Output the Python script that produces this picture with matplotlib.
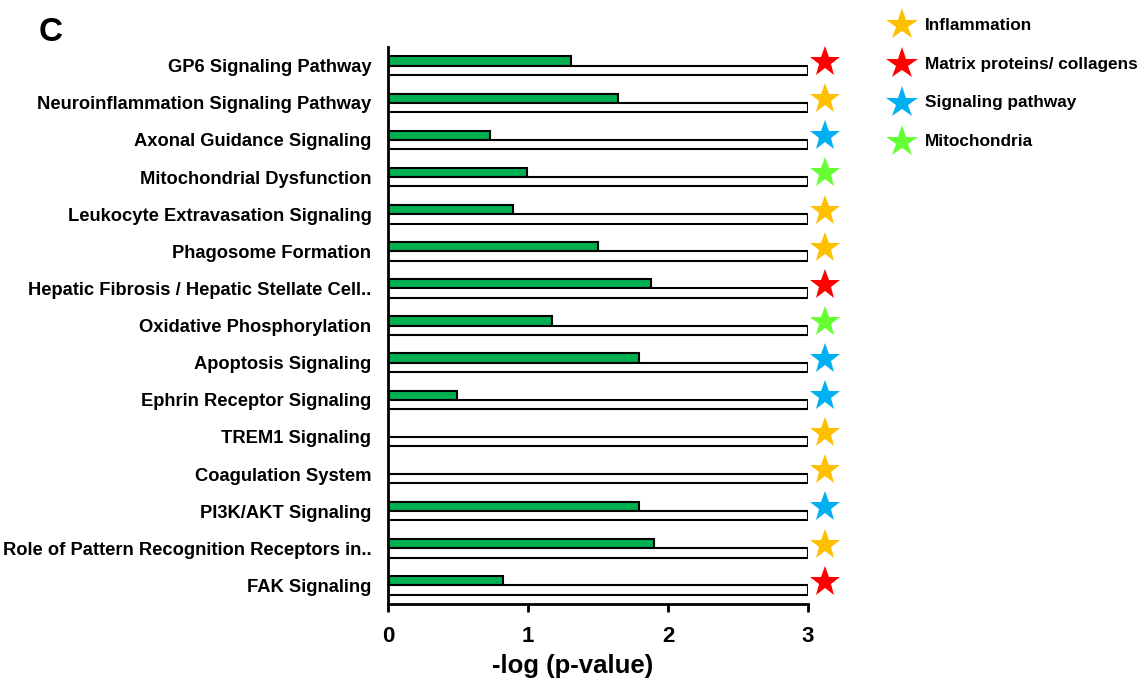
import numpy as np
import matplotlib.pyplot as plt

plt.rcParams['font.family'] = ['Liberation Sans', 'DejaVu Sans']
plt.rcParams['font.weight'] = 'bold'

# 通路名称 (从上到下)
PATHWAYS = ['GP6 Signaling Pathway', 'Neuroinflammation Signaling Pathway',
            'Axonal Guidance Signaling', 'Mitochondrial Dysfunction',
            'Leukocyte Extravasation Signaling', 'Phagosome Formation',
            'Hepatic Fibrosis / Hepatic Stellate Cell..', 'Oxidative Phosphorylation',
            'Apoptosis Signaling', 'Ephrin Receptor Signaling', 'TREM1 Signaling',
            'Coagulation System', 'PI3K/AKT Signaling',
            'Role of Pattern Recognition Receptors in..', 'FAK Signaling']
# -log(p-value)
NEG_LOG_P = [1.31, 1.64, 0.73, 0.99, 0.89, 1.50, 1.88, 1.17, 1.79, 0.49,
             0.0, 0.0, 1.79, 1.90, 0.82]
# 背景条 (阈值上限)
BACKGROUND = [3.0] * 15
# 类别
CATEGORY = ['Matrix', 'Inflammation', 'Signaling', 'Mitochondria', 'Inflammation',
            'Inflammation', 'Matrix', 'Mitochondria', 'Signaling', 'Signaling',
            'Inflammation', 'Inflammation', 'Signaling', 'Inflammation', 'Matrix']

LEGEND_KEYS = ['Inflammation', 'Matrix', 'Signaling', 'Mitochondria']
LEGEND_LABELS = ['Inflammation', 'Matrix proteins/ collagens',
                 'Signaling pathway', 'Mitochondria']
STAR_COLORS = {'Inflammation': '#FFC000', 'Matrix': '#FF0000',
               'Signaling': '#00B0F0', 'Mitochondria': '#66FF33'}

fig = plt.figure(figsize=(11.42, 6.84), dpi=100)
ax = fig.add_axes([0.3398, 0.117, 0.3678, 0.814])

y = np.arange(len(PATHWAYS))
h = 0.25
ax.barh(y - h / 2, NEG_LOG_P, height=h, color='#00B050', edgecolor='black', linewidth=1.5)
ax.barh(y + h / 2, BACKGROUND, height=h, color='white', edgecolor='black', linewidth=1.5)

# 类别星标
for i, cat in enumerate(CATEGORY):
    ax.plot(3.12, i - 0.1, marker='*', markersize=23, color=STAR_COLORS[cat],
            markeredgewidth=0, clip_on=False)

ax.set_ylim(len(PATHWAYS) - 0.5, -0.5)
ax.set_xlim(0, 3)
ax.set_yticks(y)
ax.set_yticklabels(PATHWAYS, fontsize=13.2, fontweight='bold')
ax.tick_params(axis='y', length=0, pad=12)
ax.set_xticks([0, 1, 2, 3])
ax.tick_params(axis='x', length=6, width=2, labelsize=16, pad=10)
for lab in ax.get_xticklabels():
    lab.set_fontweight('bold')
ax.set_xlabel('-log (p-value)', fontsize=18.5, fontweight='bold')
ax.xaxis.set_label_coords(0.44, -0.09)

for side in ['top', 'right']:
    ax.spines[side].set_visible(False)
for side in ['left', 'bottom']:
    ax.spines[side].set_linewidth(2)

# 图例 (手动绘制)
lax = fig.add_axes([0, 0, 1, 1])
lax.set_xlim(0, 1)
lax.set_ylim(0, 1)
lax.axis('off')
for k, (key, label) in enumerate(zip(LEGEND_KEYS, LEGEND_LABELS)):
    yy = 1 - (25 + 39 * k) / 684
    lax.plot(0.79, yy, marker='*', markersize=24, color=STAR_COLORS[key],
             markeredgewidth=0)
    lax.text(0.81, yy, label, fontsize=12.4, fontweight='bold', va='center', ha='left')

fig.text(0.034, 0.953, 'C', fontsize=24, fontweight='bold', va='center')

plt.savefig('out.png', dpi=100)
